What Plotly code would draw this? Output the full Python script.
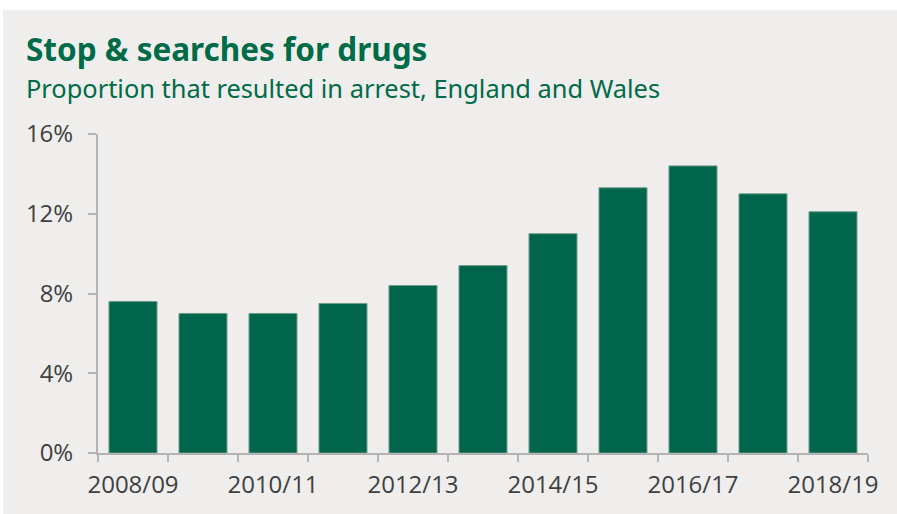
import plotly.graph_objects as go

# Stop & searches for drugs resulting in arrest, England and Wales
years = ["2008/09", "2009/10", "2010/11", "2011/12", "2012/13", "2013/14",
         "2014/15", "2015/16", "2016/17", "2017/18", "2018/19"]
arrest_pct = [7.6, 7.0, 7.0, 7.5, 8.4, 9.4, 11.0, 13.3, 14.4, 13.0, 12.1]
y_ticks = [0, 4, 8, 12, 16]
y_ticktext = ["0%", "4%", "8%", "12%", "16%"]
# label every other year
x_ticktext = [y if i % 2 == 0 else "" for i, y in enumerate(years)]

GREEN = "#00654A"
TITLE_GREEN = "#006B47"
PANEL = "#EFEEEC"
AXIS = "#B3B3B3"
TEXT = "#404040"

W, H = 897, 514
ML, MR, MT, MB = 98, 29, 134, 61
PW, PH = W - ML - MR, H - MT - MB


def px_x(x):
    return (x - ML) / PW


def px_y(y):
    return (H - MB - y) / PH


fig = go.Figure(
    go.Bar(
        x=years,
        y=arrest_pct,
        marker=dict(color=GREEN, line=dict(color="#6E9E8A", width=1)),
        hoverinfo="x+y",
    )
)

fig.update_layout(
    width=W,
    height=H,
    margin=dict(l=ML, r=MR, t=MT, b=MB, autoexpand=False),
    paper_bgcolor=PANEL,
    plot_bgcolor=PANEL,
    bargap=0.314,
    showlegend=False,
    font=dict(family="Open Sans", color=TEXT, size=24),
    shapes=[
        # white strips along the top and left edges
        dict(
            type="rect", xref="paper", yref="paper", layer="below",
            x0=px_x(-5), x1=px_x(W + 5), y0=px_y(10), y1=px_y(-5),
            fillcolor="white", line=dict(width=0),
        ),
        dict(
            type="rect", xref="paper", yref="paper", layer="below",
            x0=px_x(-5), x1=px_x(3), y0=px_y(H + 5), y1=px_y(-5),
            fillcolor="white", line=dict(width=0),
        ),
    ],
    annotations=[
        dict(
            text="<b>Stop & searches for drugs</b>",
            xref="paper", yref="paper", x=px_x(24), y=px_y(25),
            xanchor="left", yanchor="top", showarrow=False,
            font=dict(family="Noto Sans", size=31.5, color=TITLE_GREEN),
        ),
        dict(
            text="Proportion that resulted in arrest, England and Wales",
            xref="paper", yref="paper", x=px_x(24), y=px_y(69),
            xanchor="left", yanchor="top", showarrow=False,
            font=dict(family="Noto Sans", size=25.4, color=TITLE_GREEN),
        ),
    ],
)

fig.update_xaxes(
    type="category",
    tickmode="array",
    tickvals=years,
    ticktext=x_ticktext,
    tickson="boundaries",
    tickangle=0,
    automargin=False,
    ticks="outside",
    ticklen=7,
    tickwidth=2,
    tickcolor=AXIS,
    ticklabelstandoff=9,
    showline=True,
    linecolor=AXIS,
    linewidth=2,
    showgrid=False,
    zeroline=False,
    range=[-0.5, 10.5],
)

fig.update_yaxes(
    range=[0, 16],
    tickmode="array",
    tickvals=y_ticks,
    ticktext=y_ticktext,
    automargin=False,
    ticks="outside",
    ticklen=8,
    tickwidth=2,
    tickcolor=AXIS,
    ticklabelstandoff=10,
    showline=True,
    linecolor=AXIS,
    linewidth=2,
    showgrid=False,
    zeroline=False,
)

# page background continues the panel colour; no scrollbars
page_bg = (
    "document.documentElement.style.background='%s';"
    "document.documentElement.style.overflow='hidden';"
    "document.body.style.background='%s';"
    "document.body.style.overflow='hidden';"
    "document.body.style.margin='0';" % (PANEL, PANEL)
)

fig.write_html("out.html", post_script=page_bg)
